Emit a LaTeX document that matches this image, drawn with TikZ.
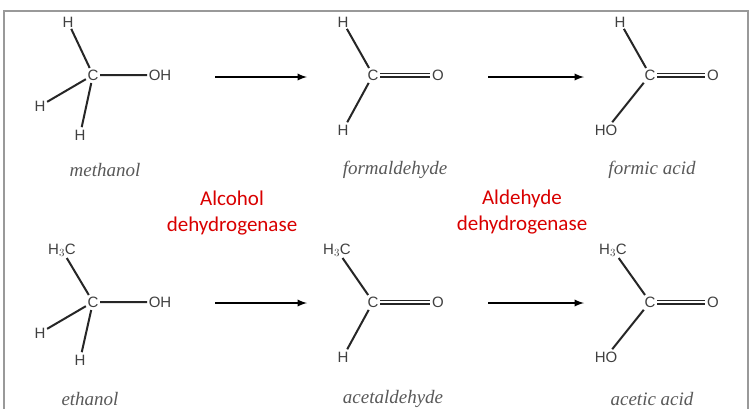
\documentclass[tikz,border=0pt]{standalone}
\usepackage{fontspec}
\setmainfont{Liberation Sans}
\newfontfamily\labfont{Liberation Serif}
\newfontfamily\redfont{Carlito}
\begin{document}
\begin{tikzpicture}[x=1pt,y=-1pt,
 atom/.style={inner sep=1.5pt,font=\fontsize{15}{15}\selectfont,text=black!75},
 bond/.style={line width=2pt,black!85,shorten <=1pt,shorten >=1pt},
 dbl/.style={double,double distance=2.6pt,line width=1.2pt,black!85},
 arr/.style={line width=2.2pt,-latex},
 lab/.style={font=\labfont\itshape\fontsize{19}{19}\selectfont,text=black!65},
 red/.style={font=\redfont\fontsize{21}{26}\selectfont,text=red!85!black,align=center}]
\useasboundingbox (0,0) rectangle (754,408);
\fill[white] (0,0) rectangle (754,408);
\draw[black!40,line width=1.2pt] (4,420) -- (4,11) -- (748,11) -- (748,420);
% methanol
\node[atom] (c1) at (93,75) {C};
\node[atom] (h1a) at (68,22) {H};
\node[atom] (o1) at (160,75) {OH};
\node[atom] (h1b) at (40,106) {H};
\node[atom] (h1c) at (80,135) {H};
\draw[bond] (c1)--(h1a) (c1)--(o1) (c1)--(h1b) (c1)--(h1c);
\node[lab] (l1) at (105,170) {methanol};
% formaldehyde
\node[atom] (c2) at (373,75) {C};
\node[atom] (h2a) at (343,22) {H};
\node[atom] (o2) at (438,75) {O};
\node[atom] (h2b) at (343,130) {H};
\draw[bond] (c2)--(h2a) (c2)--(h2b);
\draw[dbl] (c2)--(o2);
\node[lab] (l2) at (395,170) {formaldehyde};
% formic acid
\node[atom] (c3) at (650,75) {C};
\node[atom] (h3a) at (620,22) {H};
\node[atom] (o3) at (713,75) {O};
\node[atom] (ho3) at (606,130) {HO};
\draw[bond] (c3)--(h3a) (c3)--(ho3);
\draw[dbl] (c3)--(o3);
\node[lab] (l3) at (652,170) {formic acid};
% ethanol
\node[atom] (c4) at (93,302) {C};
\node[atom] (m4) at (62,250) {H$_3$C};
\node[atom] (o4) at (160,302) {OH};
\node[atom] (h4b) at (40,333) {H};
\node[atom] (h4c) at (80,360) {H};
\draw[bond] (c4)--(m4) (c4)--(o4) (c4)--(h4b) (c4)--(h4c);
\node[lab] (l4) at (90,399) {ethanol};
% acetaldehyde
\node[atom] (c5) at (373,302) {C};
\node[atom] (m5) at (337,250) {H$_3$C};
\node[atom] (o5) at (438,302) {O};
\node[atom] (h5) at (343,357) {H};
\draw[bond] (c5)--(m5) (c5)--(h5);
\draw[dbl] (c5)--(o5);
\node[lab] (l5) at (393,399) {acetaldehyde};
% acetic acid
\node[atom] (c6) at (650,302) {C};
\node[atom] (m6) at (613,250) {H$_3$C};
\node[atom] (o6) at (713,302) {O};
\node[atom] (ho6) at (606,357) {HO};
\draw[bond] (c6)--(m6) (c6)--(ho6);
\draw[dbl] (c6)--(o6);
\node[lab] (l6) at (652,399) {acetic acid};
% arrows
\coordinate (a1s) at (215,77); \coordinate (a1e) at (307,77);
\coordinate (a2s) at (488,77); \coordinate (a2e) at (584,77);
\coordinate (a3s) at (215,303); \coordinate (a3e) at (307,303);
\coordinate (a4s) at (488,303); \coordinate (a4e) at (584,303);
\draw[arr] (a1s)--(a1e); \draw[arr] (a2s)--(a2e);
\draw[arr] (a3s)--(a3e); \draw[arr] (a4s)--(a4e);
\node[red] (e1) at (232,213) {Alcohol\\dehydrogenase};
\node[red] (e2) at (522,212) {Aldehyde\\dehydrogenase};
\end{tikzpicture}
\end{document}
